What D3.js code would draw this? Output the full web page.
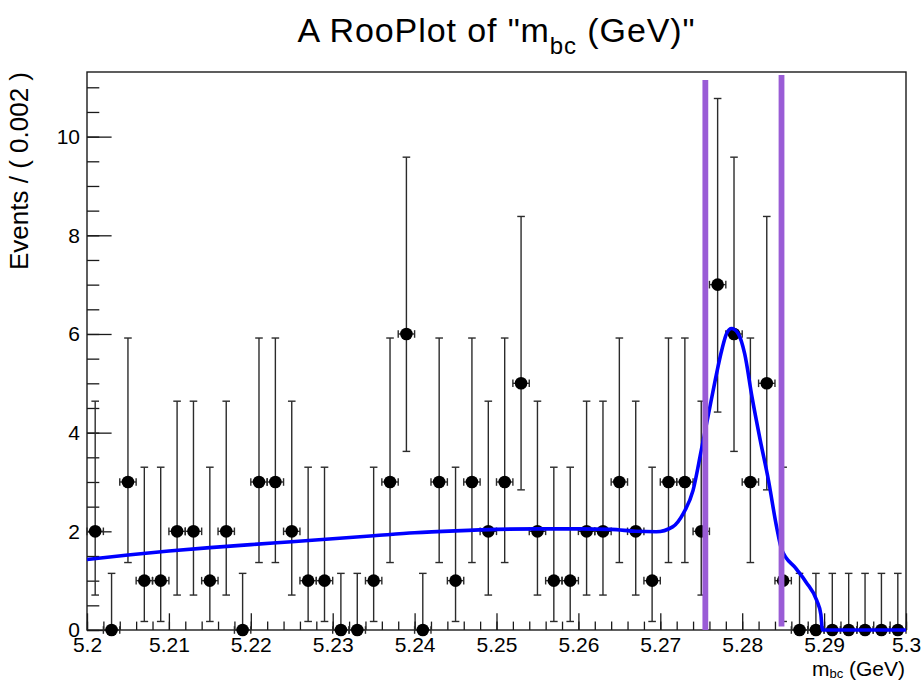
<!DOCTYPE html>
<html>
<head>
<meta charset="utf-8">
<script src="https://cdn.jsdelivr.net/npm/d3@7"></script>
<style>
  html, body { margin: 0; padding: 0; background: #fff; }
  svg { display: block; font-family: "Liberation Sans", Arial, Helvetica, sans-serif; }
</style>
</head>
<body>
<svg id="chart" width="924" height="681"></svg>
<script>
// ---- binned data for m_bc (50 bins of 0.002 GeV) ----
const binLow = 5.2;
const binHigh = 5.3;
const binWidth = 0.002;
const counts = [2, 0, 3, 1, 1, 2, 2, 1, 2, 0,
                3, 3, 2, 1, 1, 0, 0, 1, 3, 6,
                0, 3, 1, 3, 2, 3, 5, 2, 1, 1,
                2, 2, 3, 2, 1, 3, 3, 2, 7, 6,
                3, 5, 1, 0, 0, 0, 0, 0, 0, 0];

// 68% central Poisson interval for each observed count
const poissonLo = {0: 0, 1: 0.1727, 2: 0.7082, 3: 1.3672, 5: 2.8405, 6: 3.6200, 7: 4.4171};
const poissonHi = {0: 1.1478, 1: 3.2995, 2: 4.6379, 3: 5.9180, 5: 8.3821, 6: 9.5837, 7: 10.7730};

// fitted model (background + signal peak) projected on the frame
const curveX = [5.2000, 5.2050, 5.2100, 5.2150, 5.2200, 5.2250, 5.2300, 5.2350, 5.2400, 5.2450,
                5.2500, 5.2550, 5.2600, 5.2640, 5.2670, 5.2695, 5.2715, 5.2728, 5.2740, 5.2750,
                5.2759, 5.2767, 5.2775, 5.2781, 5.2787, 5.2795, 5.2803, 5.2812, 5.2822, 5.2832,
                5.2842, 5.2848, 5.2866, 5.2878, 5.2891, 5.2896, 5.2898, 5.2950, 5.3000];
const curveY = [1.43, 1.52, 1.60, 1.67, 1.73, 1.79, 1.85, 1.91, 1.97, 2.01,
                2.04, 2.05, 2.05, 2.04, 2.00, 1.99, 2.09, 2.36, 2.83, 3.64,
                4.39, 5.06, 5.67, 6.01, 6.11, 6.01, 5.60, 4.72, 3.85, 3.04,
                2.09, 1.64, 1.24, 0.97, 0.60, 0.32, 0.00, 0.00, 0.00];

// signal window boundaries
const cutX = [5.2755, 5.2848];
const cutLo = [0.00, 0.07];
const cutHi = [11.15, 11.25];

// axis ticks
const xMajor = [5.20, 5.21, 5.22, 5.23, 5.24, 5.25, 5.26, 5.27, 5.28, 5.29, 5.30];
const xLabels = ["5.2", "5.21", "5.22", "5.23", "5.24", "5.25", "5.26", "5.27", "5.28", "5.29", "5.3"];
const yMajor = [0, 2, 4, 6, 8, 10];
const yLabels = ["0", "2", "4", "6", "8", "10"];
const yMax = 11.31;

// ---- layout ----
const frame = {left: 87, right: 906, top: 72, bottom: 630};
const svg = d3.select("#chart");
svg.append("rect").attr("width", 924).attr("height", 681).attr("fill", "#fff");

const x = d3.scaleLinear().domain([binLow, binHigh]).range([frame.left, frame.right]);
const y = d3.scaleLinear().domain([0, yMax]).range([frame.bottom, frame.top]);

const ink = "#1a1a1a";
const xMinor = d3.range(0, 51).map(i => binLow + i * binWidth);
const yMinor = d3.range(0, 23).map(i => i * 0.5);

function styleAxis(g, fontSize) {
  g.select(".domain").remove();
  g.selectAll(".tick line").attr("stroke", ink).attr("stroke-width", 1.3);
  g.selectAll(".tick text").attr("fill", "#000").style("font-size", fontSize)
    .style("font-family", "\"Liberation Sans\", Arial, Helvetica, sans-serif");
}

// x axis: minor then major ticks drawn inward
svg.append("g").attr("transform", `translate(0,${frame.bottom})`)
  .call(d3.axisBottom(x).tickValues(xMinor).tickSize(-8.4).tickFormat(""))
  .call(g => styleAxis(g, "0px"));
svg.append("g").attr("transform", `translate(0,${frame.bottom})`)
  .call(d3.axisBottom(x).tickValues(xMajor).tickSize(-16.7).tickPadding(7)
        .tickFormat((d, i) => xLabels[i]))
  .call(g => styleAxis(g, "21px"));

// y axis
svg.append("g").attr("transform", `translate(${frame.left},0)`)
  .call(d3.axisLeft(y).tickValues(yMinor).tickSize(-12.3).tickFormat(""))
  .call(g => styleAxis(g, "0px"));
svg.append("g").attr("transform", `translate(${frame.left},0)`)
  .call(d3.axisLeft(y).tickValues(yMajor).tickSize(-24.6).tickPadding(7)
        .tickFormat((d, i) => yLabels[i]))
  .call(g => styleAxis(g, "21px"));

// frame
svg.append("rect")
  .attr("x", frame.left).attr("y", frame.top)
  .attr("width", frame.right - frame.left).attr("height", frame.bottom - frame.top)
  .attr("fill", "none").attr("stroke", ink).attr("stroke-width", 1.4);

// ---- data points with error bars ----
const points = counts.map((n, i) => ({
  xc: binLow + (i + 0.5) * binWidth,
  xl: binLow + i * binWidth,
  xh: binLow + (i + 1) * binWidth,
  n: n, lo: poissonLo[n], hi: poissonHi[n]
}));

const errColor = "#2b2b2b";
const capHalf = 3.8;
const pts = svg.append("g").attr("stroke", errColor).attr("stroke-width", 1.4);
points.forEach(p => {
  const cx = x(p.xc), cy = y(p.n);
  // vertical error bar with caps
  pts.append("line").attr("x1", cx).attr("x2", cx).attr("y1", y(p.lo)).attr("y2", y(p.hi));
  pts.append("line").attr("x1", cx - capHalf).attr("x2", cx + capHalf).attr("y1", y(p.hi)).attr("y2", y(p.hi));
  if (p.lo > 0) {
    pts.append("line").attr("x1", cx - capHalf).attr("x2", cx + capHalf).attr("y1", y(p.lo)).attr("y2", y(p.lo));
  }
  // horizontal bin-width bar with end ticks
  pts.append("line").attr("x1", x(p.xl)).attr("x2", x(p.xh)).attr("y1", cy).attr("y2", cy);
  pts.append("line").attr("x1", x(p.xl)).attr("x2", x(p.xl)).attr("y1", cy - capHalf).attr("y2", cy + capHalf);
  pts.append("line").attr("x1", x(p.xh)).attr("x2", x(p.xh)).attr("y1", cy - capHalf).attr("y2", cy + capHalf);
});
svg.append("g").selectAll("circle").data(points).join("circle")
  .attr("cx", d => x(d.xc)).attr("cy", d => y(d.n)).attr("r", 6.3)
  .attr("fill", "#000");

// ---- fitted curve ----
const line = d3.line().x(d => x(d[0])).y(d => y(d[1])).curve(d3.curveMonotoneX);
svg.append("path")
  .datum(curveX.map((v, i) => [v, curveY[i]]))
  .attr("d", line)
  .attr("fill", "none").attr("stroke", "#0000ff").attr("stroke-width", 3.6)
  .attr("stroke-linejoin", "round");

// ---- signal window lines ----
svg.append("g").selectAll("line").data(cutX).join("line")
  .attr("x1", d => x(d)).attr("x2", d => x(d))
  .attr("y1", (d, i) => y(cutLo[i])).attr("y2", (d, i) => y(cutHi[i]))
  .attr("stroke", "#9a5cd6").attr("stroke-width", 5.8);

// ---- texts ----
const title = svg.append("text")
  .attr("x", (frame.left + frame.right) / 2).attr("y", 42)
  .attr("text-anchor", "middle").attr("fill", "#000")
  .style("font-size", "34px").style("letter-spacing", "0.9px");
title.append("tspan").text("A RooPlot of \"m");
title.append("tspan").attr("dy", 12).style("font-size", "24px").text("bc");
title.append("tspan").attr("dy", -12).text(" (GeV)\"");

const xTitle = svg.append("text")
  .attr("x", 905).attr("y", 676)
  .attr("text-anchor", "end").attr("fill", "#000").style("font-size", "21px");
xTitle.append("tspan").text("m");
xTitle.append("tspan").attr("dy", 2).style("font-size", "13px").text("bc");
xTitle.append("tspan").attr("dy", -2).text(" (GeV)");

svg.append("text")
  .attr("transform", `translate(28,${frame.top}) rotate(-90)`)
  .attr("text-anchor", "end").attr("fill", "#000").style("font-size", "26px")
  .text("Events / ( 0.002 )");
</script>
</body>
</html>
